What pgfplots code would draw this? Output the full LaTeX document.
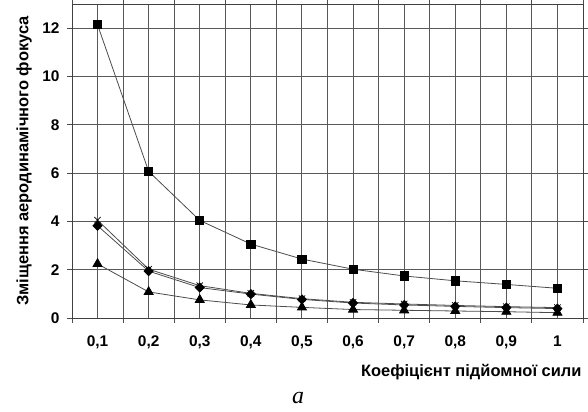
\documentclass[border=0pt]{standalone}
\usepackage{pgfplots}
\pgfplotsset{compat=1.18}
\usepackage{fontspec}
\setmainfont{Liberation Sans}
\newfontfamily\serifit{Liberation Serif}
\begin{document}
\begin{tikzpicture}
\path[use as bounding box] (0bp,0bp) rectangle (588bp,412bp);
\begin{axis}[
  at={(72bp,94bp)}, anchor=south west,
  scale only axis, width=511bp, height=314bp,
  xmin=-0.5, xmax=9.5, ymin=0, ymax=13,
  xtick={0,...,9},
  xticklabels={0{,}1,0{,}2,0{,}3,0{,}4,0{,}5,0{,}6,0{,}7,0{,}8,0{,}9,1},
  minor xtick={-0.5,0.5,...,9.5},
  ytick={0,2,...,12},
  major x tick style={draw=none},
  minor tick length=5bp,
  major tick length=5bp,
  tick align=outside,
  tick style={black!70, line width=0.8bp},
  xmajorgrids, xminorgrids, ymajorgrids,
  grid style={black!65, line width=0.9bp},
  minor grid style={black!65, line width=0.9bp},
  axis line style={black!75, line width=0.9bp},
  /pgf/number format/assume math mode=true,
  ticklabel style={font=\fontsize{15.5}{17}\selectfont\bfseries},
  xticklabel style={yshift=-9bp},
  yticklabel style={xshift=-4bp},
  every axis plot/.append style={line width=0.8bp, black!70},
]
% squares
\addplot[mark=square*, mark size=4.1bp, mark options={black, solid}] coordinates {
(0,12.14) (1,6.07) (2,4.04) (3,3.06) (4,2.44) (5,2.02) (6,1.74) (7,1.54) (8,1.39) (9,1.23)};
% crosses
\addplot[mark=x, mark size=4.5bp, mark options={black, line width=0.7bp}] coordinates {
(0,4.05) (1,2.02) (2,1.34) (3,1.02) (4,0.80) (5,0.65) (6,0.58) (7,0.52) (8,0.47) (9,0.43)};
% diamonds
\addplot[mark=square*, mark size=3.2bp, mark options={black, rotate=45}] coordinates {
(0,3.82) (1,1.94) (2,1.26) (3,0.99) (4,0.77) (5,0.62) (6,0.54) (7,0.48) (8,0.43) (9,0.39)};
% triangles
\addplot[mark=triangle*, mark size=5.2bp, mark options={black}] coordinates {
(0,2.24) (1,1.08) (2,0.75) (3,0.54) (4,0.44) (5,0.35) (6,0.32) (7,0.29) (8,0.26) (9,0.22)};
\end{axis}
\node[anchor=east, font=\fontsize{16.5}{18}\selectfont\bfseries] at (585bp,40bp) {Коефіцієнт підйомної сили};
\node[rotate=90, font=\fontsize{16.5}{18}\selectfont\bfseries] at (24bp,251bp) {Зміщення аеродинамічного фокуса};
\node[font=\fontsize{24}{28}\selectfont\serifit\itshape] at (298bp,14bp) {a};
\end{tikzpicture}
\end{document}
